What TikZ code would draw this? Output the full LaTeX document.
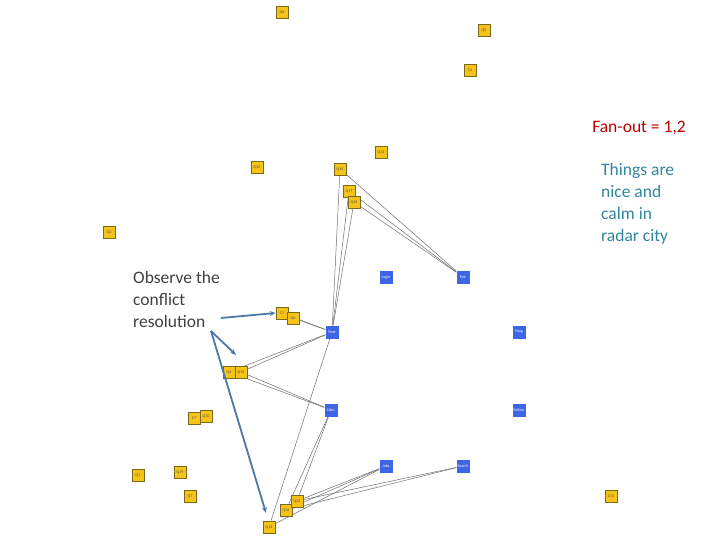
\documentclass[tikz,border=0pt]{standalone}
\usepackage{fontspec}
\setmainfont{Carlito}
\usetikzlibrary{arrows.meta}
\definecolor{qfill}{HTML}{F6C419}
\definecolor{qdraw}{HTML}{7A6A1E}
\definecolor{bfill}{HTML}{3C66E6}
\definecolor{edgec}{HTML}{6E6E6E}
\definecolor{arrc}{HTML}{4A78A8}
\definecolor{redt}{HTML}{C00000}
\definecolor{tealt}{HTML}{31859C}
\definecolor{grayt}{HTML}{404040}
\tikzset{
  qbox/.style={draw=qdraw, line width=0.7pt, fill=qfill, minimum width=12pt, minimum height=12pt, inner sep=0pt, font=\fontsize{4}{4}\selectfont, text=black!70},
  bbox/.style={fill=bfill, minimum width=13pt, minimum height=13pt, inner sep=0pt, font=\fontsize{4}{4}\selectfont, text=white},
  edge/.style={draw=edgec, line width=0.5pt},
  callout/.style={draw=arrc, line width=1.8pt, -{Stealth[length=6pt,width=5pt]}},
  txt/.style={font=\fontsize{17.5}{22}\selectfont, align=left, anchor=north west, inner sep=0pt}
}
\begin{document}
\begin{tikzpicture}[x=1pt,y=-1pt]
\useasboundingbox (0,0) rectangle (720,540);
% blue nodes
\node[bbox] (login) at (386,277) {Login};
\node[bbox] (pair) at (463,277) {Pair};
\node[bbox] (find) at (332,332) {Find};
\node[bbox] (htag) at (519,332) {Htag};
\node[bbox] (cdoc) at (331,410) {Cdoc};
\node[bbox] (follow) at (519,410) {Follow};
\node[bbox] (jobs) at (386,466) {Jobs};
\node[bbox] (search) at (463,466) {Search};
% yellow nodes
\node[qbox] (q6) at (282,12) {Q6};
\node[qbox] (q5) at (484,30) {Q5};
\node[qbox] (c2) at (470,70) {C2};
\node[qbox] (q13) at (381,152) {Q13};
\node[qbox] (q20) at (257,167) {Q20};
\node[qbox] (q14) at (340,169) {Q14};
\node[qbox] (q17) at (349,191) {Q17};
\node[qbox] (q18) at (354,202) {Q18};
\node[qbox] (q3) at (109,232) {Q3};
\node[qbox] (c1) at (282,313) {C1};
\node[qbox] (q6b) at (293,318) {Q6};
\node[qbox] (q4) at (229,372) {Q4};
\node[qbox] (q15) at (241,372) {Q15};
\node[qbox] (c7) at (194,418) {C7};
\node[qbox] (q10) at (206,416) {Q10};
\node[qbox] (q1) at (138,475) {Q1};
\node[qbox] (q19) at (180,472) {Q19};
\node[qbox] (q7) at (190,496) {Q7};
\node[qbox] (q12) at (269,527) {Q12};
\node[qbox] (q16) at (286,510) {Q16};
\node[qbox] (q22) at (297,501) {Q22};
\node[qbox] (c11) at (611,496) {C11};
% edges
\draw[edge] (q14) -- (pair);
\draw[edge] (q17) -- (pair);
\draw[edge] (q18) -- (pair);
\draw[edge] (q14) -- (find);
\draw[edge] (q17) -- (find);
\draw[edge] (q18) -- (find);
\draw[edge] (c1) -- (find);
\draw[edge] (q6b) -- (find);
\draw[edge] (find) -- (q4);
\draw[edge] (find) -- (q15);
\draw[edge] (q4) -- (cdoc);
\draw[edge] (q15) -- (cdoc);
\draw[edge] (find) -- (q12);
\draw[edge] (cdoc) -- (q16);
\draw[edge] (cdoc) -- (q22);
\draw[edge] (jobs) -- (q22);
\draw[edge] (jobs) -- (q16);
\draw[edge] (jobs) -- (q12);
\draw[edge] (search) -- (q16);
\draw[edge] (search) -- (q22);
% redraw nodes on top of edges
\node[qbox] at (q14) {Q14};
\node[qbox] at (q17) {Q17};
\node[qbox] at (q18) {Q18};
\node[qbox] at (c1) {C1};
\node[qbox] at (q6b) {Q6};
\node[qbox] at (q4) {Q4};
\node[qbox] at (q15) {Q15};
\node[qbox] at (q12) {Q12};
\node[qbox] at (q16) {Q16};
\node[qbox] at (q22) {Q22};
\node[bbox] at (pair) {Pair};
\node[bbox] at (find) {Find};
\node[bbox] at (cdoc) {Cdoc};
\node[bbox] at (jobs) {Jobs};
\node[bbox] at (search) {Search};
% texts
\node[txt, text=redt, anchor=north east] (fan) at (686,121) {Fan-out = 1,2};
\node[txt, text=tealt] (calm) at (601,163) {Things are\\nice and\\calm in\\radar city};
\node[txt, text=grayt] (obs) at (133,271) {Observe the\\conflict\\resolution};
% callout arrows
\coordinate (a0) at (221,318);
\coordinate (a1) at (211,331);
\draw[callout] (a0) -- (c1.west);
\draw[callout] (a1) -- (236,355);
\draw[callout] (a1) -- (266,513);
\end{tikzpicture}
\end{document}
